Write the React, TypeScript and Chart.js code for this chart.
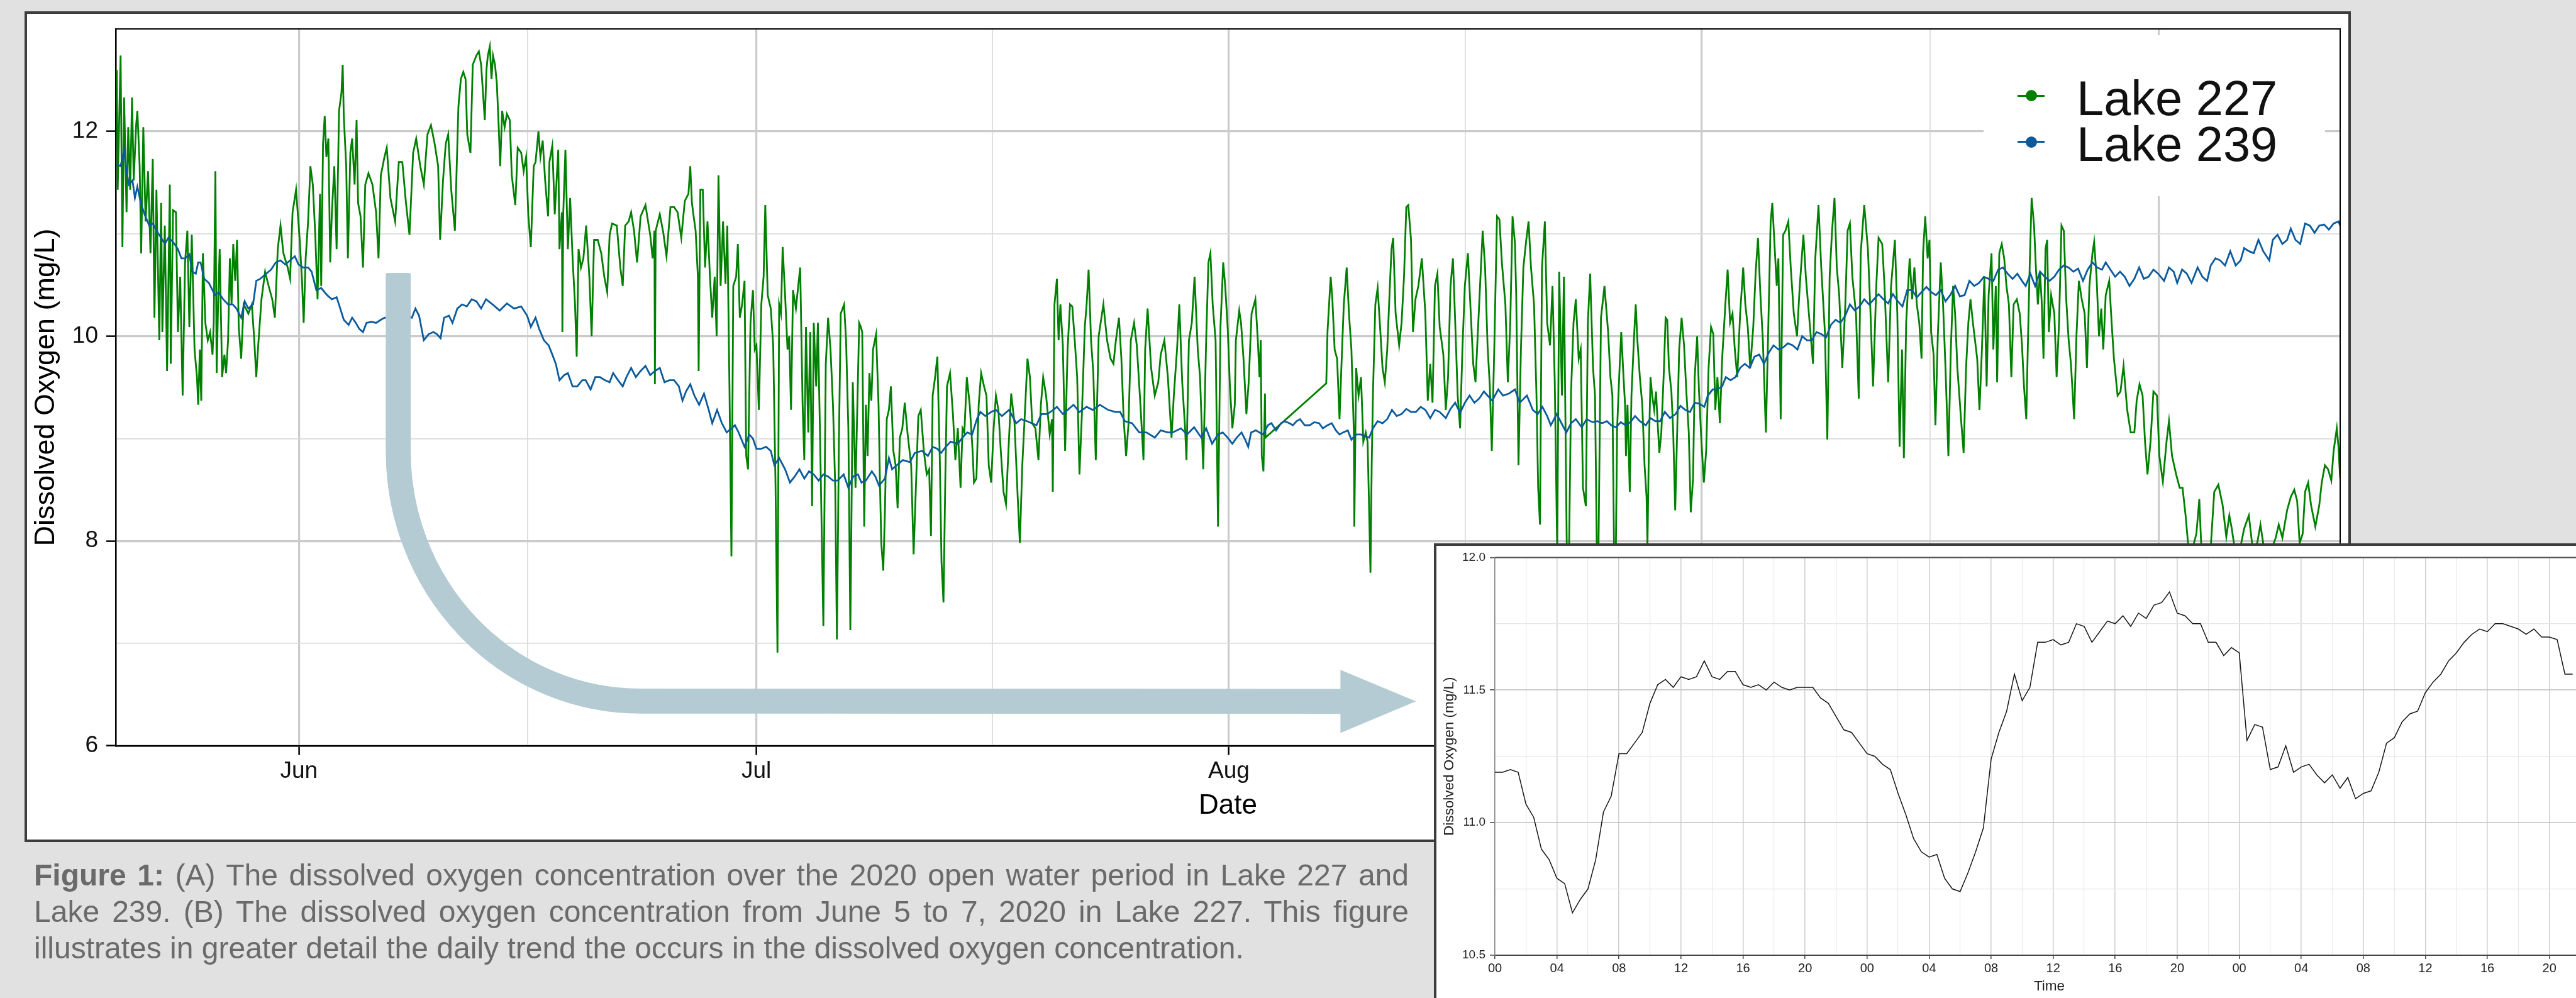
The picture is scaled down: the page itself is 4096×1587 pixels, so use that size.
import React, { useEffect, useRef } from 'react';
import { Chart, registerables } from 'chart.js';
Chart.register(...registerables);

const FONT = "'Liberation Sans', Arial, Helvetica, sans-serif";
const GREEN = '#008000';
const BLUE = '#0a5a9c';

// x = days since 1 June 2020
const monthTicks = [0, 30, 61, 92, 122];
const monthLabels = ['Jun', 'Jul', 'Aug', 'Sep', 'Oct'];
const midMonthTicks = [15, 45.5, 76.5, 107];
const doMajorTicks = [6, 8, 10, 12];
const doMinorTicks = [7, 9, 11];
const seriesNames = ['Lake 227', 'Lake 239'];

const lake227: number[][] = [
[-11.95,12.60],[-11.89,11.43],[-11.70,12.74],[-11.58,10.87],[-11.47,12.33],[-11.31,11.21],[-11.20,12.04],[-11.07,11.43],[-10.95,12.33],[-10.84,11.52],[-10.68,12.06],[-10.60,12.20],[-10.45,11.66],[-10.35,10.81],[-10.21,12.04],[-10.06,11.12],[-9.90,11.61],[-9.74,10.81],[-9.59,11.73],[-9.48,10.18],[-9.35,11.43],[-9.16,9.96],[-9.04,11.30],[-8.96,10.04],[-8.80,11.08],[-8.65,9.66],[-8.47,11.48],[-8.41,9.73],[-8.26,11.23],[-8.07,11.21],[-7.94,10.04],[-7.79,10.58],[-7.63,9.42],[-7.47,10.72],[-7.32,11.03],[-7.19,10.09],[-7.03,10.99],[-6.85,9.87],[-6.69,9.60],[-6.61,9.33],[-6.50,9.87],[-6.41,9.37],[-6.30,10.81],[-6.14,10.13],[-5.98,9.96],[-5.83,10.04],[-5.67,9.82],[-5.59,10.13],[-5.48,11.61],[-5.40,9.64],[-5.28,10.49],[-5.20,10.85],[-5.04,9.60],[-4.89,9.82],[-4.78,9.64],[-4.65,9.96],[-4.53,10.76],[-4.42,10.31],[-4.31,10.90],[-4.18,10.54],[-4.06,10.94],[-3.95,10.09],[-3.79,9.78],[-3.63,10.31],[-3.48,10.27],[-3.32,10.22],[-3.09,10.31],[-2.93,9.96],[-2.80,9.60],[-2.69,9.87],[-2.46,10.36],[-2.22,10.63],[-1.99,10.49],[-1.75,10.36],[-1.58,10.18],[-1.39,10.85],[-1.21,11.08],[-1.02,10.81],[-0.74,10.67],[-0.58,10.56],[-0.42,11.21],[-0.19,11.43],[0.05,10.94],[0.20,10.54],[0.31,10.13],[0.44,10.76],[0.60,11.12],[0.75,11.66],[0.91,11.48],[1.07,10.99],[1.22,10.36],[1.38,11.39],[1.46,10.49],[1.58,11.88],[1.69,12.15],[1.80,11.75],[1.93,11.93],[2.05,10.72],[2.16,11.21],[2.32,11.66],[2.47,10.85],[2.63,12.20],[2.79,12.38],[2.87,12.65],[2.94,12.15],[3.10,11.66],[3.21,10.76],[3.37,11.79],[3.49,11.93],[3.65,11.48],[3.78,12.11],[3.88,11.30],[4.04,11.17],[4.20,10.67],[4.35,11.48],[4.56,11.59],[4.82,11.48],[5.06,11.21],[5.22,10.76],[5.37,11.57],[5.61,11.75],[5.76,11.84],[6.00,11.35],[6.31,11.12],[6.55,11.70],[6.78,11.70],[7.02,11.30],[7.25,10.99],[7.49,11.79],[7.69,11.93],[7.96,11.66],[8.19,11.48],[8.43,11.97],[8.66,12.06],[8.90,11.88],[9.13,11.66],[9.26,10.94],[9.45,11.52],[9.63,11.88],[9.79,11.97],[9.99,11.43],[10.23,11.03],[10.46,12.24],[10.62,12.51],[10.78,12.58],[10.93,12.51],[11.04,11.97],[11.25,11.79],[11.40,12.65],[11.64,12.74],[11.80,12.78],[11.95,12.65],[12.19,12.11],[12.30,12.60],
[12.39,12.74],[12.52,12.83],[12.63,12.51],[12.73,12.74],[12.86,12.65],[12.98,12.47],[13.10,12.06],[13.20,11.66],[13.33,12.20],[13.49,12.04],[13.64,12.17],[13.83,12.11],[13.96,11.57],[14.19,11.28],[14.35,11.84],[14.58,11.79],[14.74,11.61],[14.90,11.75],[15.05,11.17],[15.21,10.87],[15.40,11.66],[15.52,11.70],[15.71,12.00],[15.84,11.75],[15.99,11.91],[16.15,11.52],[16.34,11.17],[16.43,11.70],[16.62,11.86],[16.78,11.19],[17.01,11.82],[17.09,10.85],[17.25,11.21],[17.28,10.04],[17.34,11.21],[17.48,11.82],[17.64,10.85],[17.79,11.35],[17.95,10.76],[18.11,10.31],[18.22,9.80],[18.34,10.85],[18.50,10.67],[18.66,10.76],[18.84,11.08],[19.05,10.58],[19.20,10.00],[19.36,10.94],[19.60,10.94],[19.83,10.81],[20.03,10.58],[20.22,10.43],[20.38,10.99],[20.54,11.10],[20.85,11.08],[21.08,10.67],[21.24,10.49],[21.40,11.08],[21.63,11.12],[21.79,11.21],[21.98,11.03],[22.18,10.72],[22.41,11.17],[22.73,11.28],[23.04,10.99],[23.20,10.76],[23.32,11.03],[23.35,9.53],[23.40,11.03],[23.67,11.19],[23.90,11.01],[24.11,10.78],[24.37,11.26],[24.61,11.26],[24.84,11.21],[25.08,10.96],[25.31,11.32],[25.55,11.39],[25.67,11.66],[25.78,11.30],[25.89,11.17],[26.02,11.03],[26.17,10.58],[26.22,9.66],[26.33,11.43],[26.49,11.43],[26.64,10.67],[26.80,11.12],[26.96,10.58],[27.11,10.18],[27.27,10.58],[27.40,10.00],[27.52,11.57],[27.66,10.49],[27.82,11.12],[27.98,10.51],[28.10,11.08],[28.24,9.51],[28.37,7.85],[28.49,10.49],[28.68,10.58],[28.79,10.90],[28.92,10.18],[29.07,10.31],[29.23,10.54],[29.34,8.83],[29.46,8.70],[29.62,10.13],[29.78,10.45],[29.90,9.87],[30.01,9.91],[30.17,9.28],[30.33,10.31],[30.48,10.58],[30.59,11.28],[30.75,10.40],[30.95,10.27],[31.11,9.91],[31.26,8.57],[31.39,6.91],[31.50,10.31],[31.62,10.22],[31.73,10.87],[31.89,10.40],[32.05,9.87],[32.16,10.00],[32.28,9.28],[32.41,10.45],[32.60,10.27],[32.75,10.49],[32.88,10.67],[33.04,9.33],[33.15,8.79],[33.26,10.09],[33.41,9.06],[33.54,10.04],[33.66,8.34],[33.77,10.13],[33.93,9.51],[34.04,10.13],[34.19,8.97],[34.40,7.17],[34.56,9.73],[34.71,10.18],[34.87,9.87],[35.03,9.33],[35.18,8.52],[35.29,7.04],[35.42,8.97],[35.54,10.22],[35.76,10.31],[35.89,9.96],[36.04,9.10],[36.17,7.13],[36.33,9.55],[36.51,8.52],[36.75,10.13],[36.86,10.09],
[36.95,10.04],[37.08,8.14],[37.19,9.33],[37.30,8.83],[37.42,9.64],[37.55,9.37],[37.66,9.87],[37.86,10.02],[38.02,9.33],[38.12,8.52],[38.20,7.98],[38.33,7.71],[38.44,8.30],[38.56,9.19],[38.70,9.28],[38.83,9.51],[38.99,8.88],[39.14,8.74],[39.27,8.32],[39.42,9.01],[39.58,9.10],[39.74,9.35],[39.93,9.04],[40.16,8.74],[40.32,7.87],[40.47,8.52],[40.63,9.22],[40.79,9.28],[40.99,8.88],[41.18,8.65],[41.34,8.70],[41.46,8.05],[41.57,9.42],[41.73,9.60],[41.88,9.80],[42.04,8.79],[42.15,7.80],[42.28,7.40],[42.40,8.61],[42.51,9.51],[42.71,9.64],[42.90,9.24],[43.06,8.79],[43.22,9.10],[43.40,8.52],[43.53,9.10],[43.65,9.06],[43.81,9.60],[44.00,9.33],[44.19,8.88],[44.28,8.57],[44.44,8.61],[44.59,9.33],[44.75,9.64],[44.94,9.51],[45.10,9.42],[45.25,8.74],[45.41,8.57],[45.57,9.10],[45.72,9.42],[45.88,9.28],[46.04,8.88],[46.22,8.48],[46.38,8.36],[46.54,8.88],[46.72,9.44],[46.94,9.15],[47.16,8.39],[47.29,7.98],[47.45,8.74],[47.60,9.19],[47.79,9.78],[47.95,9.60],[48.10,9.15],[48.31,9.10],[48.51,8.79],[48.67,9.33],[48.82,9.60],[49.01,9.42],[49.25,9.04],[49.40,9.19],[49.45,8.48],[49.56,10.31],[49.72,10.56],[49.83,9.96],[49.95,10.31],[50.11,9.91],[50.26,8.88],[50.42,9.87],[50.58,10.31],[50.73,10.29],[50.89,9.96],[51.05,9.60],[51.20,8.65],[51.36,9.24],[51.55,10.09],[51.67,10.31],[51.80,10.65],[51.96,9.96],[52.11,9.64],[52.27,8.79],[52.46,10.00],[52.77,10.31],[53.01,9.96],[53.24,9.78],[53.43,9.73],[53.59,9.96],[53.79,10.18],[53.95,9.78],[54.10,9.19],[54.26,8.83],[54.42,9.15],[54.57,9.96],[54.78,10.13],[54.96,9.91],[55.20,9.33],[55.40,8.79],[55.51,9.87],[55.67,10.27],[55.90,9.69],[56.14,9.42],[56.37,9.55],[56.53,9.82],[56.77,9.96],[57.00,9.60],[57.24,9.01],[57.39,9.42],[57.60,9.87],[57.75,10.31],[57.94,9.55],[58.13,9.10],[58.22,8.79],[58.38,9.96],[58.57,10.13],[58.75,10.58],[58.96,9.87],[59.11,9.60],[59.32,8.70],[59.51,9.96],[59.66,10.72],[59.79,10.81],[59.94,10.31],[60.13,9.96],[60.29,8.14],[60.45,10.09],[60.63,10.72],[60.76,10.49],[60.92,10.09],[61.07,9.51],[61.23,9.10],[61.39,9.33],[61.46,9.96],
[61.68,10.25],[61.80,10.13],[61.96,9.78],[62.15,9.24],[62.30,9.55],[62.49,10.22],[62.74,10.36],[62.90,9.96],[63.01,9.60],[63.09,9.96],[63.16,8.83],[63.27,8.68],[63.37,9.44],[63.40,9.01],[67.39,9.54],[67.47,10.04],[67.68,10.58],[67.79,10.36],[67.94,9.87],[68.10,9.78],[68.26,9.19],[68.38,9.69],[68.54,10.31],[68.73,10.67],[68.88,10.22],[69.04,9.87],[69.20,9.06],[69.23,8.14],[69.35,9.69],[69.51,9.42],[69.67,9.60],[69.82,8.97],[69.98,9.06],[70.10,8.97],[70.17,8.52],[70.29,7.69],[70.37,8.74],[70.45,9.42],[70.61,10.31],[70.76,10.47],[70.92,10.09],[71.08,9.69],[71.23,9.55],[71.39,9.87],[71.55,10.45],[71.67,10.85],[71.78,10.96],[71.94,10.22],[72.17,9.91],[72.33,10.13],[72.49,10.58],[72.64,11.26],[72.77,11.28],[72.95,10.94],[73.08,10.04],[73.24,10.36],[73.43,10.49],[73.66,10.76],[73.89,10.22],[74.05,9.37],[74.21,9.73],[74.36,9.35],[74.52,10.49],[74.68,10.61],[74.83,10.09],[75.07,9.82],[75.23,9.28],[75.38,9.60],[75.54,10.49],[75.70,10.76],[75.85,10.13],[76.01,9.42],[76.17,9.10],[76.32,9.87],[76.48,10.49],[76.68,10.81],[76.87,10.22],[77.03,9.73],[77.18,9.55],[77.42,10.31],[77.65,11.03],[77.81,10.67],[77.97,9.91],[78.12,9.51],[78.25,8.88],[78.41,9.87],[78.59,11.17],[78.75,11.14],[78.91,10.72],[79.14,10.31],[79.30,9.55],[79.46,10.13],[79.61,11.17],[79.77,10.90],[79.85,10.40],[80.00,8.74],[80.16,9.87],[80.32,10.67],[80.51,10.94],[80.66,11.12],[80.82,10.67],[81.02,10.31],[81.18,9.42],[81.29,8.52],[81.41,8.16],[81.54,10.67],[81.73,11.12],[81.88,10.13],[82.07,9.91],[82.23,10.49],[82.38,9.55],[82.54,7.90],[82.67,10.63],[82.85,9.42],[82.98,10.58],[83.17,7.90],[83.32,7.95],[83.45,9.46],[83.61,10.13],[83.76,10.36],[83.95,9.78],[84.08,9.87],[84.23,8.52],[84.42,8.34],[84.55,10.13],[84.70,10.61],[84.89,9.69],[85.02,9.42],[85.14,7.90],[85.25,7.95],[85.41,10.18],[85.64,10.49],[85.88,10.04],[86.03,9.60],
[86.16,9.42],[86.27,7.90],[86.39,7.95],[86.47,9.10],[86.63,9.69],[86.74,10.04],[86.89,9.60],[86.99,9.33],[87.05,8.83],[87.15,9.33],[87.30,8.48],[87.41,9.42],[87.57,9.96],[87.69,10.31],[87.80,9.96],[87.96,9.60],[88.12,9.33],[88.27,8.74],[88.40,8.43],[88.46,7.95],[88.55,8.88],[88.66,9.60],[88.77,9.42],[88.90,9.28],[89.02,9.46],[89.13,9.15],[89.24,8.86],[89.37,9.06],[89.53,9.64],[89.65,10.18],[89.76,10.16],[89.87,9.69],[90.03,9.46],[90.15,9.06],[90.28,8.30],[90.43,9.19],[90.54,9.87],[90.70,10.18],[90.86,9.91],[91.01,9.46],[91.17,9.06],[91.30,8.28],[91.45,8.61],[91.56,9.60],[91.72,10.00],[91.84,9.46],[92.00,8.97],[92.16,8.57],[92.31,8.88],[92.47,9.69],[92.63,10.09],[92.78,10.02],[92.91,9.28],[93.05,9.60],[93.21,9.15],[93.36,9.78],[93.57,10.31],[93.72,10.65],[93.88,10.13],[94.04,10.22],[94.19,9.87],[94.35,9.60],[94.54,10.22],[94.74,10.67],[94.88,10.31],[95.04,10.09],[95.20,9.69],[95.40,10.09],[95.56,10.63],[95.71,10.96],[95.87,10.40],[96.03,9.96],[96.23,9.06],[96.42,10.31],[96.54,11.12],[96.65,11.30],[96.81,10.85],[96.94,10.49],[97.05,10.76],[97.20,9.19],[97.36,10.99],[97.51,11.03],[97.70,11.12],[97.86,10.67],[98.06,10.22],[98.27,10.00],[98.45,10.49],[98.69,10.99],[98.85,10.58],[99.00,10.31],[99.32,9.73],[99.47,10.76],[99.68,11.28],[99.86,10.67],[100.10,10.04],[100.26,8.99],[100.41,10.58],[100.57,11.03],[100.73,11.35],[100.88,10.67],[101.04,10.40],[101.24,9.69],[101.43,10.27],[101.59,11.03],[101.74,11.10],[101.90,10.58],[102.14,10.22],[102.32,9.39],[102.45,10.81],[102.68,11.28],[102.92,10.85],[103.08,10.27],[103.26,9.51],[103.47,10.49],[103.62,10.96],[103.86,10.90],[104.01,10.49],[104.25,9.55],[104.44,10.49],[104.69,10.94],[104.85,10.22],[105.00,8.92],[105.16,9.87],[105.28,8.81],[105.43,10.13],[105.66,10.76],[105.82,10.36],[105.97,10.67],[106.13,10.31],[106.29,10.13],[106.44,9.78],[106.54,10.81],[106.68,11.17],[106.84,10.76],[106.96,10.94],[107.07,10.04],[107.23,9.82],[107.35,9.13],[107.51,10.02],[107.70,10.72],[107.85,10.31],[108.01,9.69],[108.20,8.83],[108.36,9.87],[108.51,10.49],[108.64,10.22],[108.79,9.69],[109.03,9.19],[109.20,8.86],[109.36,9.69],[109.51,10.13],[109.65,10.36],[109.81,10.13],
[110.09,9.78],[110.24,9.28],[110.40,9.87],[110.56,10.58],[110.71,9.51],[110.84,10.40],[111.03,10.81],[111.15,9.87],[111.31,10.49],[111.40,9.55],[111.54,10.81],[111.70,10.90],[111.86,10.76],[112.01,10.49],[112.17,10.31],[112.33,9.60],[112.48,10.31],[112.69,10.36],[112.88,10.22],[113.03,9.91],[113.16,9.51],[113.31,9.19],[113.42,9.96],[113.53,10.67],[113.66,11.35],[113.82,11.08],[113.94,10.67],[114.07,10.31],[114.21,10.63],[114.32,10.34],[114.44,9.78],[114.57,10.85],[114.68,10.94],[114.79,10.04],[114.94,10.40],[115.15,10.22],[115.30,9.60],[115.46,10.13],[115.62,11.08],[115.77,11.03],[115.93,10.36],[116.09,9.96],[116.24,9.73],[116.45,9.19],[116.60,10.00],[116.76,10.54],[116.95,10.36],[117.14,10.22],[117.29,9.69],[117.45,10.49],[117.65,10.81],[117.76,10.92],[117.92,10.58],[118.08,10.00],[118.23,10.27],[118.36,9.87],[118.52,10.40],[118.75,10.54],[118.91,10.13],[119.06,9.78],[119.30,9.42],[119.49,9.46],[119.69,9.71],[119.93,9.28],[120.16,9.06],[120.40,9.06],[120.55,9.37],[120.74,9.53],[120.94,9.42],[121.10,8.97],[121.26,8.65],[121.46,8.97],[121.65,9.46],[121.88,9.42],[122.04,8.83],[122.27,8.58],[122.51,8.97],[122.67,9.17],[122.87,8.83],[123.14,8.65],[123.37,8.52],[123.56,8.52],[123.76,8.25],[123.92,7.98],[124.15,7.89],[124.47,8.07],[124.66,8.41],[124.78,7.98],[125.02,7.85],[125.41,7.94],[125.64,8.48],[125.91,8.55],[126.19,8.35],[126.43,8.04],[126.63,8.25],[126.79,8.12],[126.97,7.94],[127.29,7.89],[127.60,8.12],[127.91,8.25],[128.15,7.94],[128.46,7.98],[128.67,8.16],[128.89,7.94],[129.32,7.89],[129.67,8.03],[129.87,8.16],[130.11,8.03],[130.42,8.30],[130.66,8.43],[130.89,8.50],[131.08,8.39],[131.24,7.98],[131.44,8.07],[131.60,8.48],[131.80,8.57],[131.99,8.35],[132.27,8.14],[132.53,8.35],[132.69,8.57],[132.90,8.74],[133.11,8.70],[133.32,8.59],[133.47,8.88],[133.68,9.10],[133.79,8.92],[133.90,8.61]
];

const lake239: number[][] = [
[-11.95,11.68],[-11.70,11.66],[-11.47,11.82],[-11.31,11.61],[-11.15,11.48],[-10.92,11.52],[-10.76,11.35],[-10.60,11.46],[-10.37,11.30],[-10.13,11.19],[-9.82,11.08],[-9.59,11.10],[-9.35,11.03],[-9.04,10.96],[-8.80,10.90],[-8.57,10.96],[-8.26,10.92],[-7.94,10.85],[-7.71,10.76],[-7.47,10.76],[-7.19,10.80],[-7.00,10.63],[-6.77,10.61],[-6.61,10.72],[-6.45,10.72],[-6.22,10.56],[-5.91,10.52],[-5.67,10.45],[-5.51,10.40],[-5.28,10.43],[-4.97,10.36],[-4.65,10.31],[-4.34,10.31],[-4.10,10.27],[-3.79,10.18],[-3.56,10.34],[-3.32,10.27],[-3.01,10.31],[-2.80,10.54],[-2.54,10.56],[-2.15,10.61],[-1.83,10.65],[-1.52,10.72],[-1.21,10.74],[-0.89,10.70],[-0.58,10.74],[-0.27,10.78],[-0.03,10.70],[0.28,10.67],[0.60,10.67],[0.83,10.63],[1.14,10.45],[1.46,10.47],[1.85,10.40],[2.16,10.36],[2.47,10.38],[2.71,10.27],[2.94,10.16],[3.26,10.11],[3.49,10.18],[3.73,10.13],[3.96,10.07],[4.20,10.04],[4.43,10.13],[4.75,10.14],[5.06,10.13],[5.37,10.16],[5.61,10.18],[6.47,10.20],[7.41,10.18],[7.64,10.27],[7.88,10.20],[8.19,9.96],[8.51,10.02],[8.82,10.04],[9.05,10.02],[9.29,9.98],[9.52,10.18],[9.84,10.20],[10.07,10.13],[10.39,10.27],[10.70,10.31],[11.01,10.29],[11.33,10.36],[11.64,10.34],[11.95,10.27],[12.27,10.36],
[12.70,10.31],[13.17,10.25],[13.64,10.32],[14.11,10.27],[14.58,10.29],[14.97,10.20],[15.21,10.09],[15.52,10.18],[15.76,10.07],[16.07,9.96],[16.38,9.91],[16.62,9.82],[16.85,9.73],[17.09,9.57],[17.40,9.62],[17.64,9.64],[17.95,9.51],[18.26,9.51],[18.58,9.57],[18.81,9.57],[19.13,9.48],[19.44,9.60],[19.75,9.60],[20.07,9.57],[20.38,9.55],[20.61,9.64],[20.93,9.57],[21.24,9.51],[21.48,9.60],[21.79,9.69],[22.10,9.60],[22.41,9.66],[22.73,9.71],[23.04,9.62],[23.35,9.66],[23.67,9.69],[23.98,9.55],[24.29,9.57],[24.61,9.57],[24.92,9.51],[25.16,9.37],[25.39,9.46],[25.67,9.53],[25.94,9.42],[26.25,9.33],[26.57,9.44],[26.88,9.28],[27.11,9.15],[27.43,9.28],[27.74,9.15],[28.06,9.06],[28.37,9.10],[28.60,9.13],[28.84,9.06],[29.23,8.92],[29.54,9.04],[29.78,9.00],[30.01,8.90],[30.33,8.90],[30.64,8.92],[30.95,8.88],[31.19,8.74],[31.50,8.81],[31.89,8.70],[32.21,8.57],[32.52,8.63],[32.83,8.70],[33.15,8.61],[33.46,8.68],[33.77,8.65],[34.09,8.59],[34.40,8.65],[34.71,8.63],[35.03,8.59],[35.34,8.59],[35.73,8.65],[36.04,8.52],[36.36,8.63],[36.67,8.65],[36.90,8.57],
[37.19,8.59],[37.58,8.68],[37.81,8.63],[38.05,8.54],[38.44,8.61],[38.70,8.81],[38.91,8.70],[39.22,8.74],[39.61,8.79],[40.08,8.77],[40.40,8.86],[40.87,8.88],[41.26,8.83],[41.57,8.92],[41.88,8.90],[42.12,8.86],[42.43,8.92],[42.75,8.97],[43.22,8.95],[43.53,9.01],[43.84,9.06],[44.16,9.04],[44.47,9.19],[44.70,9.26],[45.02,9.22],[45.41,9.26],[45.72,9.28],[46.11,9.22],[46.58,9.28],[47.05,9.15],[47.37,9.19],[47.76,9.17],[48.07,9.15],[48.38,9.13],[48.70,9.24],[49.09,9.24],[49.48,9.28],[49.72,9.31],[50.11,9.24],[50.42,9.28],[50.81,9.33],[51.20,9.26],[51.67,9.31],[52.07,9.28],[52.54,9.33],[53.08,9.28],[53.55,9.26],[53.87,9.26],[54.18,9.17],[54.65,9.15],[55.12,9.06],[55.59,9.06],[56.14,9.01],[56.53,9.08],[57.00,9.06],[57.31,9.06],[57.86,9.10],[58.25,9.04],[58.72,9.11],[59.19,9.01],[59.51,9.10],[59.90,8.95],[60.29,9.04],[60.60,9.06],[60.92,9.01],[61.23,8.95],
[61.52,9.01],[61.83,9.06],[62.07,8.99],[62.27,8.92],[62.46,9.06],[62.77,9.08],[63.01,9.06],[63.24,9.04],[63.56,9.13],[63.79,9.15],[64.10,9.08],[64.42,9.15],[64.65,9.17],[64.97,9.15],[65.20,9.13],[65.44,9.17],[65.67,9.19],[65.98,9.13],[66.30,9.13],[66.61,9.16],[66.92,9.15],[67.16,9.10],[67.47,9.13],[67.75,9.15],[68.02,9.08],[68.26,9.04],[68.49,9.06],[68.80,9.08],[69.04,8.99],[69.35,9.04],[69.67,9.04],[69.98,9.02],[70.21,9.01],[70.45,9.10],[70.76,9.17],[71.08,9.15],[71.39,9.19],[71.70,9.28],[72.01,9.22],[72.33,9.24],[72.64,9.29],[72.95,9.26],[73.27,9.26],[73.58,9.31],[73.89,9.28],[74.21,9.20],[74.52,9.28],[74.83,9.26],[75.23,9.20],[75.54,9.29],[75.85,9.35],[76.17,9.25],[76.48,9.35],[76.79,9.42],[77.11,9.35],[77.42,9.39],[77.73,9.46],[77.97,9.42],[78.28,9.37],[78.67,9.48],[78.99,9.42],[79.38,9.44],[79.77,9.48],[80.08,9.35],[80.55,9.42],[80.94,9.28],[81.26,9.24],[81.57,9.31],[81.88,9.22],[82.12,9.13],[82.51,9.24],[82.82,9.15],[83.14,9.06],[83.45,9.15],[83.76,9.19],[84.15,9.11],[84.47,9.19],[84.86,9.16],[85.17,9.17],[85.49,9.15],[85.80,9.17],
[86.08,9.13],[86.39,9.11],[86.71,9.16],[87.02,9.13],[87.33,9.16],[87.65,9.22],[87.96,9.17],[88.35,9.13],[88.66,9.20],[88.98,9.17],[89.29,9.17],[89.60,9.26],[89.94,9.20],[90.31,9.24],[90.62,9.32],[90.94,9.28],[91.25,9.26],[91.56,9.35],[91.88,9.34],[92.19,9.31],[92.42,9.42],[92.74,9.48],[93.05,9.48],[93.36,9.51],[93.60,9.60],[93.91,9.57],[94.23,9.60],[94.54,9.69],[94.85,9.73],[95.17,9.69],[95.48,9.80],[95.79,9.82],[96.11,9.73],[96.42,9.84],[96.73,9.91],[97.05,9.87],[97.36,9.89],[97.67,9.93],[97.99,9.91],[98.30,9.87],[98.61,10.00],[98.92,9.96],[99.24,9.96],[99.55,10.04],[99.86,10.02],[100.18,9.99],[100.49,10.11],[100.80,10.16],[101.12,10.13],[101.43,10.20],[101.74,10.31],[102.06,10.25],[102.37,10.29],[102.68,10.36],[103.00,10.31],[103.31,10.36],[103.62,10.41],[103.94,10.36],[104.25,10.32],[104.56,10.41],[104.88,10.34],[105.19,10.29],[105.50,10.45],[105.82,10.45],[106.13,10.38],[106.44,10.43],[106.76,10.48],[107.07,10.43],[107.38,10.40],[107.70,10.45],[108.01,10.34],[108.32,10.40],[108.64,10.49],[108.95,10.39],[109.26,10.40],[109.58,10.54],[109.89,10.49],
[110.21,10.52],[110.53,10.58],[110.84,10.56],[111.15,10.54],[111.47,10.65],[111.78,10.67],[112.09,10.61],[112.41,10.56],[112.72,10.61],[113.03,10.54],[113.27,10.49],[113.58,10.61],[113.89,10.49],[114.21,10.63],[114.52,10.58],[114.83,10.54],[115.15,10.58],[115.46,10.65],[115.77,10.69],[116.09,10.67],[116.40,10.63],[116.71,10.66],[117.03,10.54],[117.34,10.65],[117.65,10.72],[117.97,10.67],[118.28,10.65],[118.52,10.72],[118.83,10.65],[119.14,10.58],[119.46,10.63],[119.77,10.58],[120.08,10.49],[120.40,10.56],[120.71,10.67],[121.02,10.56],[121.33,10.58],[121.65,10.65],[121.96,10.61],[122.35,10.54],[122.67,10.67],[122.98,10.63],[123.21,10.52],[123.53,10.65],[123.84,10.61],[124.15,10.52],[124.55,10.67],[124.86,10.58],[125.17,10.54],[125.41,10.69],[125.72,10.76],[126.03,10.74],[126.35,10.69],[126.69,10.83],[127.05,10.69],[127.37,10.74],[127.60,10.86],[127.91,10.83],[128.23,10.81],[128.54,10.94],[128.85,10.83],[129.25,10.74],[129.48,10.94],[129.79,10.99],[130.11,10.90],[130.42,10.94],[130.66,11.05],[130.97,10.94],[131.28,10.90],[131.60,11.10],[131.91,11.08],[132.22,11.01],[132.53,11.08],[132.85,11.09],[133.16,11.04],[133.47,11.10],[133.79,11.12],[133.90,11.08]
];

// Inset (B): Lake 227, 5-7 June 2020, half-hourly readings from 00:00 on 5 June
const insetStepHours = 0.5;
const insetDO = [
11.19,11.19,11.20,11.19,11.07,11.02,10.90,10.86,10.79,10.77,
10.66,10.71,10.75,10.86,11.04,11.10,11.26,11.26,11.30,11.34,
11.45,11.52,11.54,11.51,11.55,11.54,11.55,11.61,11.55,11.54,
11.57,11.57,11.52,11.51,11.52,11.50,11.53,11.51,11.50,11.51,
11.51,11.51,11.47,11.45,11.40,11.35,11.34,11.30,11.26,11.25,
11.22,11.20,11.11,11.03,10.94,10.89,10.87,10.88,10.79,10.75,
10.74,10.81,10.89,10.98,11.24,11.34,11.42,11.56,11.46,11.51,
11.68,11.68,11.69,11.67,11.68,11.75,11.74,11.68,11.72,11.76,
11.75,11.78,11.74,11.79,11.77,11.82,11.83,11.87,11.79,11.78,
11.75,11.75,11.68,11.68,11.63,11.66,11.64,11.31,11.37,11.36,
11.20,11.21,11.29,11.19,11.21,11.22,11.18,11.15,11.18,11.13,
11.17,11.09,11.11,11.12,11.19,11.30,11.32,11.38,11.41,11.42,
11.49,11.53,11.56,11.61,11.64,11.68,11.71,11.73,11.72,11.75,
11.75,11.74,11.73,11.71,11.73,11.70,11.70,11.69,11.56,11.56
];
const insetYMajor = [10.5, 11.0, 11.5, 12.0];

const captionLines = [
  ['Figure 1:', ' (A) The dissolved oxygen concentration over the 2020 open water period in Lake 227 and'],
  ['', 'Lake 239. (B) The dissolved oxygen concentration from June 5 to 7, 2020 in Lake 227. This figure'],
  ['', 'illustrates in greater detail the daily trend the occurs in the dissolved oxygen concentration.'],
];

const isIn = (arr: number[], v: number) => arr.some((a) => Math.abs(a - v) < 1e-6);

function MainChart() {
  const ref = useRef<HTMLCanvasElement>(null);
  useEffect(() => {
    if (!ref.current) return;
    const frame = {
      id: 'mainFrame',
      afterDatasetsDraw(chart: any) {
        const { ctx, chartArea: a } = chart;
        ctx.save();
        ctx.strokeStyle = '#000';
        ctx.lineWidth = 2;
        ctx.beginPath();
        ctx.moveTo(a.left, a.top);
        ctx.lineTo(a.right, a.top);
        ctx.lineTo(a.right, a.bottom);
        ctx.stroke();
        ctx.restore();
      },
    };
    const xMajor = (v: number) => isIn(monthTicks, v);
    const yMajor = (v: number) => isIn(doMajorTicks, v);
    const chart = new Chart(ref.current, {
      type: 'line',
      data: {
        datasets: [
          { label: seriesNames[1], data: lake239.map(([x, y]) => ({ x, y })), borderColor: BLUE, backgroundColor: BLUE, borderWidth: 2.8, pointRadius: 0, order: 0 },
          { label: seriesNames[0], data: lake227.map(([x, y]) => ({ x, y })), borderColor: GREEN, backgroundColor: GREEN, borderWidth: 2.8, pointRadius: 0, order: 1 },
        ],
      },
      options: {
        responsive: false,
        animation: false,
        devicePixelRatio: 1,
        layout: { padding: { left: 20, top: 46, right: 375, bottom: 201 } },
        plugins: { legend: { display: false }, tooltip: { enabled: false } },
        elements: { line: { tension: 0 } },
        scales: {
          x: {
            type: 'linear',
            min: -12.02,
            max: 133.9,
            afterBuildTicks: (s: any) => {
              s.ticks = [...monthTicks, ...midMonthTicks].sort((a, b) => a - b).map((v) => ({ value: v }));
            },
            afterFit: (s: any) => { s.height = 200; },
            ticks: {
              autoSkip: false, maxRotation: 0, minRotation: 0, padding: 4.5, color: '#111',
              font: { family: FONT, size: 37 },
              callback: (v: any) => { const i = monthTicks.indexOf(Number(v)); return i >= 0 ? monthLabels[i] : ''; },
            },
            grid: {
              color: (c: any) => (xMajor(c.tick?.value) ? '#cbcbcb' : '#dcdcdc'),
              lineWidth: (c: any) => (xMajor(c.tick?.value) ? 3.2 : 1.8),
              tickColor: (c: any) => (xMajor(c.tick?.value) ? '#000' : 'rgba(0,0,0,0)'),
              tickLength: 14.5,
              tickWidth: 2.5,
            },
            border: { display: true, color: '#000', width: 2.5 },
            title: { display: true, text: 'Date', color: '#000', font: { family: FONT, size: 44 }, padding: { top: 0, bottom: 78 } },
          },
          y: {
            type: 'linear',
            min: 6,
            max: 13,
            afterBuildTicks: (s: any) => {
              s.ticks = [...doMajorTicks, ...doMinorTicks].sort((a, b) => a - b).map((v) => ({ value: v }));
            },
            afterFit: (s: any) => { s.width = 164; },
            ticks: {
              padding: 13, color: '#111', font: { family: FONT, size: 37 },
              callback: (v: any) => (yMajor(Number(v)) ? String(v) : ''),
            },
            grid: {
              color: (c: any) => (yMajor(c.tick?.value) ? '#cbcbcb' : '#dcdcdc'),
              lineWidth: (c: any) => (yMajor(c.tick?.value) ? 3.2 : 1.8),
              tickColor: (c: any) => (yMajor(c.tick?.value) ? '#000' : 'rgba(0,0,0,0)'),
              tickLength: 15,
              tickWidth: 2.5,
            },
            border: { display: true, color: '#000', width: 2.5 },
            title: { display: true, text: 'Dissolved Oxygen (mg/L)', color: '#000', font: { family: FONT, size: 45 }, padding: { top: 27, bottom: 0 } },
          },
        },
      } as any,
      plugins: [frame],
    });
    return () => chart.destroy();
  }, []);
  return <canvas ref={ref} width={4096} height={1587} style={{ position: 'absolute', left: 0, top: 0, width: 4096, height: 1587 }} />;
}

function InsetChart() {
  const ref = useRef<HTMLCanvasElement>(null);
  useEffect(() => {
    if (!ref.current) return;
    const frame = {
      id: 'insetFrame',
      afterDatasetsDraw(chart: any) {
        const { ctx, chartArea: a } = chart;
        ctx.save();
        ctx.strokeStyle = '#555';
        ctx.lineWidth = 2;
        ctx.beginPath();
        ctx.moveTo(a.left, a.top);
        ctx.lineTo(a.right, a.top);
        ctx.stroke();
        ctx.restore();
      },
    };
    const xMajor = (v: number) => Math.abs(v / 4 - Math.round(v / 4)) < 1e-6;
    const yMajor = (v: number) => isIn(insetYMajor, v);
    const chart = new Chart(ref.current, {
      type: 'line',
      data: {
        datasets: [
          { label: 'Lake 227', data: insetDO.map((y, i) => ({ x: i * insetStepHours, y })), borderColor: '#151515', borderWidth: 1.5, pointRadius: 0 },
        ],
      },
      options: {
        responsive: false,
        animation: false,
        devicePixelRatio: 1,
        layout: { padding: { left: 0, top: 12.8, right: 44, bottom: 0 } },
        plugins: { legend: { display: false }, tooltip: { enabled: false } },
        elements: { line: { tension: 0 } },
        scales: {
          x: {
            type: 'linear', min: 0, max: 71.5,
            afterBuildTicks: (s: any) => {
              const t = [];
              for (let h = 0; h <= 70; h += 2) t.push({ value: h });
              s.ticks = t;
            },
            afterFit: (s: any) => { s.height = 68; },
            ticks: {
              autoSkip: false, maxRotation: 0, minRotation: 0, padding: 3.4, color: '#222',
              font: { family: FONT, size: 20 },
              callback: (v: any) => (xMajor(Number(v)) ? String(Number(v) % 24).padStart(2, '0') : ''),
            },
            grid: {
              color: (c: any) => (xMajor(c.tick?.value) ? '#d0d0d0' : '#e9e9e9'),
              lineWidth: (c: any) => (xMajor(c.tick?.value) ? 1.6 : 1.2),
              tickColor: (c: any) => (xMajor(c.tick?.value) ? '#444' : 'rgba(0,0,0,0)'),
              tickLength: 6,
              tickWidth: 1.5,
            },
            border: { display: true, color: '#444', width: 2 },
            title: { display: true, text: 'Time', color: '#222', font: { family: FONT, size: 22.5 }, padding: { top: 0, bottom: 5 } },
          },
          y: {
            type: 'linear', min: 10.5, max: 12.0,
            afterBuildTicks: (s: any) => {
              s.ticks = [10.5, 10.75, 11.0, 11.25, 11.5, 11.75, 12.0].map((v) => ({ value: v }));
            },
            afterFit: (s: any) => { s.width = 93; },
            ticks: {
              padding: 7, color: '#222', font: { family: FONT, size: 19 },
              callback: (v: any) => (yMajor(Number(v)) ? Number(v).toFixed(1) : ''),
            },
            grid: {
              color: (c: any) => (yMajor(c.tick?.value) ? '#c9c9c9' : '#e6e6e6'),
              lineWidth: (c: any) => (yMajor(c.tick?.value) ? 1.8 : 1.2),
              tickColor: (c: any) => (yMajor(c.tick?.value) ? '#444' : 'rgba(0,0,0,0)'),
              tickLength: 8,
              tickWidth: 1.5,
            },
            border: { display: true, color: '#888', width: 1.5 },
            title: { display: true, text: 'Dissolved Oxygen (mg/L)', color: '#222', font: { family: FONT, size: 22.5 }, padding: { top: 7.5, bottom: 0 } },
          },
        },
      } as any,
      plugins: [frame],
    });
    return () => chart.destroy();
  }, []);
  return <canvas ref={ref} width={1900} height={719} style={{ position: 'absolute', left: 2284, top: 868, width: 1900, height: 719 }} />;
}

function Legend() {
  const entries = [
    { name: seriesNames[0], color: GREEN, cy: 152.4, top: 118.3 },
    { name: seriesNames[1], color: BLUE, cy: 225.5, top: 191.3 },
  ];
  return (
    <div>
      <div style={{ position: 'absolute', left: 3154, top: 56, width: 543, height: 256, background: '#fff' }} />
      {entries.map((e) => (
        <React.Fragment key={e.name}>
          <div style={{ position: 'absolute', left: 3208, top: e.cy - 1.8, width: 43, height: 3.6, background: e.color }} />
          <div style={{ position: 'absolute', left: 3229.6 - 9, top: e.cy - 9, width: 18, height: 18, borderRadius: '50%', background: e.color }} />
          <div style={{ position: 'absolute', left: 3302, top: e.top, fontFamily: FONT, fontSize: 77.6, lineHeight: '77.6px', color: '#111', whiteSpace: 'nowrap' }}>{e.name}</div>
        </React.Fragment>
      ))}
    </div>
  );
}

function Arrow() {
  const c = '#b4cbd3';
  return (
    <svg width={4096} height={1587} style={{ position: 'absolute', left: 0, top: 0, pointerEvents: 'none' }}>
      <path d="M633.2 436 L633.2 717.1 A384.3 397.8 0 0 0 1017.5 1114.9 L2132 1115.3" fill="none" stroke={c} strokeWidth={39.7} />
      <rect x={613.35} y={433.9} width={39.7} height={6} rx={3} fill={c} />
      <polygon points="2131.4,1065.3 2251.4,1115.3 2131.4,1165.4" fill={c} />
    </svg>
  );
}

function Caption() {
  const tops = [1368.4, 1426.1, 1483.8];
  return (
    <div>
      {captionLines.map((l, i) => (
        <div
          key={i}
          style={{
            position: 'absolute', left: 54, top: tops[i], width: 2186,
            fontFamily: FONT, fontSize: 48, lineHeight: '48px', color: '#6a6a6a',
            textAlign: i < 2 ? 'justify' : 'left', textAlignLast: i < 2 ? 'justify' : 'left',
            whiteSpace: 'normal',
          } as any}
        >
          {l[0] ? <b>{l[0]}</b> : null}
          {l[1]}
        </div>
      ))}
    </div>
  );
}

export default function App() {
  return (
    <div style={{ position: 'fixed', left: 0, top: 0, width: 4096, height: 1587, overflow: 'hidden', background: '#e1e1e1' }}>
      <div style={{ position: 'absolute', left: 38.8, top: 18, width: 3699, height: 1321, boxSizing: 'border-box', border: '4px solid #3c3c3c', background: '#fff' }} />
      <MainChart />
      <Arrow />
      <Legend />
      <Caption />
      <div style={{ position: 'absolute', left: 2280, top: 864, width: 1900, height: 800, boxSizing: 'border-box', border: '4px solid #3c3c3c', background: '#fff' }} />
      <InsetChart />
    </div>
  );
}
